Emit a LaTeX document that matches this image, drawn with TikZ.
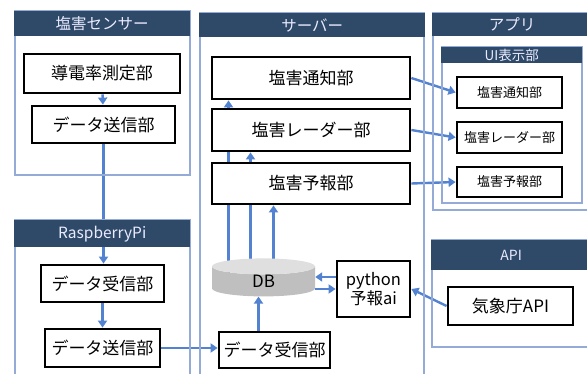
\documentclass[tikz,border=0pt]{standalone}
\usepackage{fontspec}
\setmainfont{Noto Sans CJK JP}
\usepackage{tikz}
\usetikzlibrary{arrows.meta, positioning, shapes.geometric, backgrounds}

\definecolor{headblue}{HTML}{2E4A68}
\definecolor{frameblue}{HTML}{93ABD6}
\definecolor{flowblue}{HTML}{5282D0}

\begin{document}
\begin{tikzpicture}[x=1pt, y=-1pt,
    every node/.style={font=\fontsize{17}{19}\selectfont},
    unit/.style={draw=black, line width=2.8pt, fill=white, inner sep=0pt},
    small/.style={font=\fontsize{13}{15}\selectfont},
    head/.style={fill=headblue, text=white!92!blue, inner sep=0pt, anchor=north west,
                 font=\fontsize{15.5}{17}\selectfont},
    frame/.style={draw=frameblue, line width=2pt},
    flow/.style={draw=flowblue, line width=2.4pt, -{Triangle[length=7pt, width=9pt]}}]

  \useasboundingbox (0,0) rectangle (587,374);

  % Panels -----------------------------------------------------------------
  \draw[frame] (15,11) rectangle (190,175);
  \draw[frame] (15,220) rectangle (190,390);
  \draw[frame] (200,13) rectangle (424,390);
  \draw[frame] (433,13) rectangle (600,210);
  \draw[frame] (442,47) rectangle (582,203);
  \draw[frame] (432,240) rectangle (600,347);

  \node[head, minimum width=176pt, minimum height=25pt] (hsensor) at (14,11) {塩害センサー};
  \node[head, minimum width=176pt, minimum height=27pt] (hpi) at (14,220) {RaspberryPi};
  \node[head, minimum width=226pt, minimum height=24pt] (hserver) at (199,13) {サーバー};
  \node[head, minimum width=160pt, minimum height=23pt] (happ) at (432,13) {アプリ};
  \node[head, minimum width=141pt, minimum height=16pt, font=\fontsize{13.5}{15}\selectfont]
    (hui) at (441,47) {UI表示部};
  \node[head, minimum width=160pt, minimum height=30pt, font=\fontsize{14}{15}\selectfont]
    (hapi) at (431,240) {API};

  % Sensor / RaspberryPi units ----------------------------------------------
  \node[unit, minimum width=156pt, minimum height=39pt] (cond) at (102,73.5) {導電率測定部};
  \node[unit, minimum width=143pt, minimum height=37pt] (ssend) at (103.5,124.5) {データ送信部};
  \node[unit, minimum width=123pt, minimum height=37pt] (rrecv) at (102.5,283.5) {データ受信部};
  \node[unit, minimum width=115pt, minimum height=38pt] (rsend) at (102.5,348) {データ送信部};

  % Server units -------------------------------------------------------------
  \node[unit, minimum width=198pt, minimum height=42pt] (snotify) at (311,78) {塩害通知部};
  \node[unit, minimum width=198pt, minimum height=42pt] (sradar) at (311,130) {塩害レーダー部};
  \node[unit, minimum width=198pt, minimum height=41pt] (sfcst) at (311,183.5) {塩害予報部};
  \node[shape=cylinder, shape border rotate=90, aspect=0.7,
        minimum width=103pt, minimum height=38pt, inner sep=0pt,
        cylinder uses custom fill, cylinder body fill=gray!50,
        cylinder end fill=gray!25] (db) at (263.5,281.5) {DB};
  \node[unit, minimum width=73pt, minimum height=56pt, align=center,
        font=\fontsize{16.5}{17.5}\selectfont] (python) at (373.5,289) {python\\予報ai};
  \node[unit, minimum width=111pt, minimum height=36pt] (srecv) at (274.5,350) {データ受信部};

  % App / API units ------------------------------------------------------------
  \node[unit, small, minimum width=105pt, minimum height=31pt] (anotify) at (509.5,92.5) {塩害通知部};
  \node[unit, small, minimum width=105pt, minimum height=31pt] (aradar) at (509.5,137.5) {塩害レーダー部};
  \node[unit, small, minimum width=105pt, minimum height=30pt] (afcst) at (509.5,182) {塩害予報部};
  \node[unit, minimum width=125pt, minimum height=38pt] (jma) at (510.5,306) {気象庁API};

  % Data flow ------------------------------------------------------------------
  \begin{scope}[on background layer]
    \draw[flow] (cond) -- (ssend);
    \draw[flow] (ssend.south) -- (ssend.south |- rrecv.north);
    \draw[flow] (rrecv) -- (rsend);
    \draw[flow] (rsend.east) -- (rsend.east -| srecv.west);
    \draw[flow] ([xshift=-16pt]srecv.north) -- ([xshift=-16pt]srecv.north |- db.south);
    \draw[flow] ([xshift=-35pt]db.center) -- ([xshift=-35pt]db.center |- snotify.south);
    \draw[flow] ([xshift=-13pt]db.center) -- ([xshift=-13pt]db.center |- sradar.south);
    \draw[flow] ([xshift=10pt]db.center) -- ([xshift=10pt]db.center |- sfcst.south);
    \draw[flow] ([yshift=12pt]python.west) -- ([yshift=12pt]python.west -| db.east);
    \draw[flow] (db.east |- python.west) -- (python.west);
    \draw[flow] (jma.west) -- (python.east);
    \draw[flow] (snotify.east) -- (anotify.west);
    \draw[flow] (sradar.east) -- (aradar.west);
    \draw[flow] (sfcst.east) -- (afcst.west);
  \end{scope}

\end{tikzpicture}
\end{document}
